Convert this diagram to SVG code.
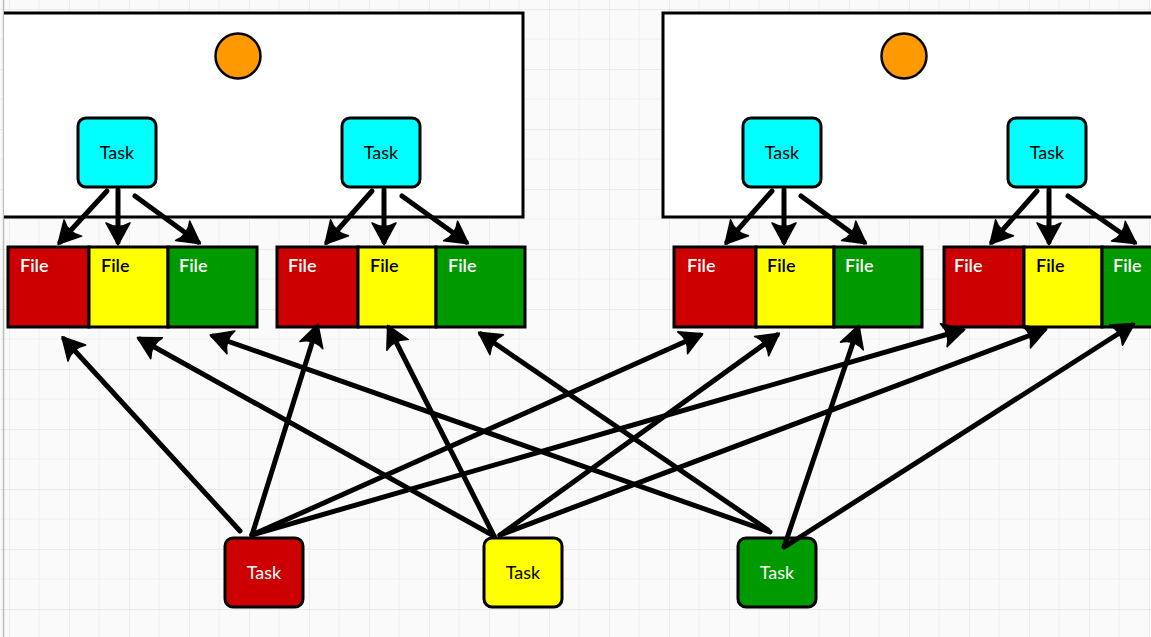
<svg xmlns="http://www.w3.org/2000/svg" width="1151" height="637" viewBox="0 0 1151 637">
  <style>
    .box { stroke: #000; stroke-width: 3; }
    .task { stroke: #000; stroke-width: 3; }
    .lbl { font-family: Lato, "Open Sans", "Liberation Sans", sans-serif; font-size: 18px; }
    .fl { font-weight: 600; }
    .tl { text-anchor: middle; }
    .wt { fill: #fff; }
    .bk { fill: #000; }
    .red { fill: #cc0000; }
    .yel { fill: #ffff00; }
    .grn { fill: #009900; }
    .cyan { fill: #00ffff; }
    .conn line { stroke: #000; stroke-width: 5; stroke-linecap: round; marker-end: url(#head); }
  </style>
  <defs>
    <pattern id="grid" patternUnits="userSpaceOnUse" x="9" y="9" width="60" height="60">
      <rect width="60" height="60" fill="#fafafa"/>
      <path d="M30 0V60M0 30H60" stroke="#f0f0f0" stroke-width="1" fill="none"/>
      <path d="M0 0V60M0 0H60" stroke="#ebebeb" stroke-width="2" fill="none"/>
    </pattern>
    <marker id="head" markerUnits="userSpaceOnUse" viewBox="-22 -14 26 28" refX="0" refY="0" markerWidth="26" markerHeight="28" orient="auto">
      <path d="M3 0L-19 -12Q-12 0 -19 12Z" fill="#000" stroke="#000" stroke-width="1.5" stroke-linejoin="round"/>
    </marker>
  </defs>

  <!-- canvas -->
  <rect width="1151" height="637" fill="url(#grid)"/>
  <line x1="3.5" y1="0" x2="3.5" y2="637" stroke="#bdbdbd" stroke-width="1.5"/>

  <!-- left container -->
  <g id="container-left">
    <rect x="4" y="13" width="519" height="204" fill="#fff"/>
    <path d="M4 13H523V217H4" fill="none" stroke="#000" stroke-width="3"/>
    <circle cx="238" cy="56" r="22.5" fill="#ff9900" stroke="#000" stroke-width="2.5"/>
  </g>

  <!-- right container -->
  <g id="container-right">
    <rect x="663" y="13" width="500" height="204" fill="#fff" stroke="#000" stroke-width="3"/>
    <circle cx="904" cy="56" r="22.5" fill="#ff9900" stroke="#000" stroke-width="2.5"/>
  </g>

  <!-- tasks inside containers -->
  <g id="task-l1"><rect class="task cyan" x="78" y="118" width="78" height="69" rx="8"/><text class="lbl tl bk" x="117" y="159">Task</text></g>
  <g id="task-l2"><rect class="task cyan" x="342" y="118" width="78" height="69" rx="8"/><text class="lbl tl bk" x="381" y="159">Task</text></g>
  <g id="task-r1"><rect class="task cyan" x="743" y="118" width="78" height="69" rx="8"/><text class="lbl tl bk" x="782" y="159">Task</text></g>
  <g id="task-r2"><rect class="task cyan" x="1008" y="118" width="78" height="69" rx="8"/><text class="lbl tl bk" x="1047" y="159">Task</text></g>

  <!-- file groups -->
  <g id="files-1">
    <rect class="box red" x="8" y="247" width="81" height="80"/><text class="lbl fl wt" x="20" y="272">File</text>
    <rect class="box yel" x="89" y="247" width="79" height="80"/><text class="lbl fl bk" x="101" y="272">File</text>
    <rect class="box grn" x="168" y="247" width="89" height="80"/><text class="lbl fl wt" x="179" y="272">File</text>
  </g>
  <g id="files-2">
    <rect class="box red" x="277" y="247" width="81" height="80"/><text class="lbl fl wt" x="288" y="272">File</text>
    <rect class="box yel" x="358" y="247" width="78" height="80"/><text class="lbl fl bk" x="370" y="272">File</text>
    <rect class="box grn" x="436" y="247" width="89" height="80"/><text class="lbl fl wt" x="448" y="272">File</text>
  </g>
  <g id="files-3">
    <rect class="box red" x="674" y="247" width="82" height="80"/><text class="lbl fl wt" x="687" y="272">File</text>
    <rect class="box yel" x="756" y="247" width="78" height="80"/><text class="lbl fl bk" x="767" y="272">File</text>
    <rect class="box grn" x="834" y="247" width="88" height="80"/><text class="lbl fl wt" x="845" y="272">File</text>
  </g>
  <g id="files-4">
    <rect class="box red" x="944" y="247" width="80" height="80"/><text class="lbl fl wt" x="954" y="272">File</text>
    <rect class="box yel" x="1024" y="247" width="78" height="80"/><text class="lbl fl bk" x="1036" y="272">File</text>
    <rect class="box grn" x="1102" y="247" width="60" height="80"/><text class="lbl fl wt" x="1113" y="272">File</text>
  </g>

  <!-- bottom tasks -->
  <g id="task-red"><rect class="task red" x="225" y="538" width="78" height="69" rx="8"/><text class="lbl tl wt" x="264" y="579">Task</text></g>
  <g id="task-yellow"><rect class="task yel" x="484" y="538" width="78" height="69" rx="8"/><text class="lbl tl bk" x="523" y="579">Task</text></g>
  <g id="task-green"><rect class="task grn" x="738" y="538" width="78" height="69" rx="8"/><text class="lbl tl wt" x="777" y="579">Task</text></g>

  <!-- connectors -->
  <g id="connectors" class="conn">
    <!-- container tasks to their files -->
    <line x1="107" y1="191" x2="60" y2="242"/>
    <line x1="118" y1="190" x2="118" y2="242"/>
    <line x1="135" y1="196" x2="198" y2="242"/>
    <line x1="372" y1="191" x2="327" y2="242"/>
    <line x1="384" y1="190" x2="384" y2="242"/>
    <line x1="402" y1="196" x2="466" y2="242"/>
    <line x1="772" y1="191" x2="727" y2="242"/>
    <line x1="784" y1="190" x2="784" y2="242"/>
    <line x1="801" y1="196" x2="864" y2="242"/>
    <line x1="1037" y1="191" x2="992" y2="242"/>
    <line x1="1049" y1="190" x2="1049" y2="242"/>
    <line x1="1068" y1="196" x2="1134" y2="242"/>
    <!-- red task -->
    <line x1="240" y1="531" x2="64" y2="339"/>
    <line x1="252" y1="535" x2="317" y2="327"/>
    <line x1="252" y1="535" x2="700" y2="335"/>
    <line x1="252" y1="535" x2="962" y2="330"/>
    <!-- yellow task -->
    <line x1="494" y1="536" x2="140" y2="339"/>
    <line x1="494" y1="536" x2="389" y2="328"/>
    <line x1="500" y1="535" x2="777" y2="335"/>
    <line x1="500" y1="535" x2="1044" y2="330"/>
    <!-- green task -->
    <line x1="770" y1="532" x2="213" y2="336"/>
    <line x1="768" y1="530" x2="481" y2="334"/>
    <line x1="784" y1="547" x2="858" y2="328"/>
    <line x1="786" y1="546" x2="1132" y2="325"/>
  </g>
</svg>
